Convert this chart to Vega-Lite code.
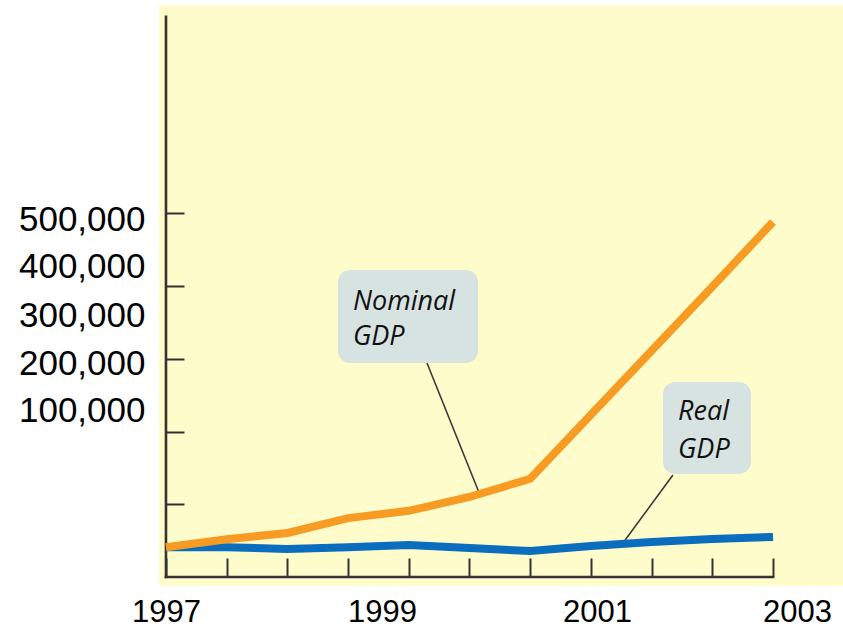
{
  "$schema": "https://vega.github.io/schema/vega-lite/v6.json",
  "width": 684,
  "height": 581,
  "autosize": "none",
  "padding": {"left": 159, "top": 5, "right": 0, "bottom": 43},
  "background": "white",
  "config": {"view": {"fill": "#fffccc", "stroke": null}},
  "datasets": {
    "series": [
      {"year": 1997.0, "value": 41000, "series": "Real GDP"},
      {"year": 1997.6, "value": 41000, "series": "Real GDP"},
      {"year": 1998.2, "value": 38500, "series": "Real GDP"},
      {"year": 1998.8, "value": 41000, "series": "Real GDP"},
      {"year": 1999.4, "value": 44000, "series": "Real GDP"},
      {"year": 2000.0, "value": 40000, "series": "Real GDP"},
      {"year": 2000.6, "value": 35700, "series": "Real GDP"},
      {"year": 2001.2, "value": 42600, "series": "Real GDP"},
      {"year": 2001.8, "value": 48100, "series": "Real GDP"},
      {"year": 2002.4, "value": 52200, "series": "Real GDP"},
      {"year": 2003.0, "value": 55000, "series": "Real GDP"},
      {"year": 1997.0, "value": 41000, "series": "Nominal GDP"},
      {"year": 1997.6, "value": 52000, "series": "Nominal GDP"},
      {"year": 1998.2, "value": 60500, "series": "Nominal GDP"},
      {"year": 1998.8, "value": 81000, "series": "Nominal GDP"},
      {"year": 1999.4, "value": 91000, "series": "Nominal GDP"},
      {"year": 2000.0, "value": 110000, "series": "Nominal GDP"},
      {"year": 2000.6, "value": 135000, "series": "Nominal GDP"},
      {"year": 2001.2, "value": 223000, "series": "Nominal GDP"},
      {"year": 2001.8, "value": 311000, "series": "Nominal GDP"},
      {"year": 2002.4, "value": 399000, "series": "Nominal GDP"},
      {"year": 2003.0, "value": 488000, "series": "Nominal GDP"}
    ],
    "boxes": [
      {"name": "Nominal GDP", "x1": 1998.700, "x2": 2000.084, "y1": 421993, "y2": 294158},
      {"name": "Real GDP", "x1": 2001.913, "x2": 2002.782, "y1": 268041, "y2": 141581}
    ],
    "leaders": [
      {"name": "Nominal GDP", "x1": 1999.580, "y1": 294158, "x2": 2000.104, "y2": 112715},
      {"name": "Real GDP", "x1": 2002.011, "y1": 140206, "x2": 2001.517, "y2": 46735}
    ],
    "labels": [
      {"text": "Nominal", "x": 1998.848, "y": 367010},
      {"text": "GDP", "x": 1998.848, "y": 318900},
      {"text": "Real", "x": 2002.061, "y": 215808},
      {"text": "GDP", "x": 2002.061, "y": 163574}
    ],
    "axislines": [
      {"x1": 1997, "y1": 0, "x2": 1997, "y2": 770000},
      {"x1": 1997, "y1": 0, "x2": 2003, "y2": 0}
    ]
  },
  "resolve": {"axis": {"x": "independent", "y": "independent"}},
  "layer": [
    {
      "data": {"name": "leaders"},
      "mark": {"type": "rule", "color": "#3a3a3a", "strokeWidth": 1.6},
      "encoding": {
        "x": {"field": "x1", "type": "quantitative", "scale": {"domain": [1996.931, 2003.692], "nice": false, "zero": false}, "axis": null},
        "y": {"field": "y1", "type": "quantitative", "scale": {"domain": [-12371, 786254], "nice": false, "zero": false}, "axis": null},
        "x2": {"field": "x2"},
        "y2": {"field": "y2"}
      }
    },
    {
      "data": {"name": "boxes"},
      "mark": {"type": "rect", "fill": "#d7e3e1", "cornerRadius": 12},
      "encoding": {
        "x": {"field": "x1", "type": "quantitative", "scale": {"domain": [1996.931, 2003.692], "nice": false, "zero": false}, "axis": null},
        "y": {"field": "y1", "type": "quantitative", "scale": {"domain": [-12371, 786254], "nice": false, "zero": false}, "axis": null},
        "x2": {"field": "x2"},
        "y2": {"field": "y2"}
      }
    },
    {
      "data": {"name": "labels"},
      "mark": {"type": "text", "align": "left", "baseline": "alphabetic", "font": "Open Sans", "fontStyle": "italic", "fontSize": 27, "color": "#111111"},
      "encoding": {
        "x": {"field": "x", "type": "quantitative", "scale": {"domain": [1996.931, 2003.692], "nice": false, "zero": false}, "axis": null},
        "y": {"field": "y", "type": "quantitative", "scale": {"domain": [-12371, 786254], "nice": false, "zero": false}, "axis": null},
        "text": {"field": "text"}
      }
    },
    {
      "data": {"name": "axislines"},
      "mark": {"type": "rule", "color": "#333333", "strokeWidth": 2.6, "strokeCap": "square"},
      "encoding": {
        "x": {
          "field": "x1", "type": "quantitative",
          "scale": {"domain": [1996.931, 2003.692], "nice": false, "zero": false},
          "axis": {
            "orient": "bottom", "title": null, "values": [1997, 1999.135, 2001.26, 2003.237],
            "labelExpr": "format(round(datum.value), 'd')",
            "ticks": false, "domain": false, "grid": false,
            "labelFont": "Liberation Sans", "labelFontSize": 31, "labelColor": "#000000",
            "labelPadding": 26, "labelBaseline": "middle", "labelAlign": "center",
            "labelFlush": false, "labelOverlap": false
          }
        },
        "y": {
          "field": "y1", "type": "quantitative",
          "scale": {"domain": [-12371, 786254], "nice": false, "zero": false},
          "axis": {
            "orient": "left", "title": null, "values": [492096, 426117, 358763, 294158, 229553],
            "labelExpr": "datum.value > 460000 ? '500,000' : datum.value > 390000 ? '400,000' : datum.value > 320000 ? '300,000' : datum.value > 260000 ? '200,000' : '100,000'",
            "ticks": false, "domain": false, "grid": false,
            "labelFont": "Liberation Sans", "labelFontSize": 35, "labelColor": "#000000",
            "labelPadding": 14, "labelBaseline": "middle", "labelAlign": "right",
            "labelFlush": false, "labelOverlap": false
          }
        },
        "x2": {"field": "x2"},
        "y2": {"field": "y2"}
      }
    },
    {
      "data": {"name": "series"},
      "mark": {"type": "line", "strokeWidth": 8, "strokeCap": "butt", "strokeJoin": "miter"},
      "encoding": {
        "x": {
          "field": "year", "type": "quantitative",
          "scale": {"domain": [1996.931, 2003.692], "nice": false, "zero": false},
          "axis": {
            "orient": "bottom", "title": null,
            "values": [1997, 1997.6, 1998.2, 1998.8, 1999.4, 2000, 2000.6, 2001.2, 2001.8, 2002.4, 2003],
            "labels": false, "domain": false, "grid": false,
            "ticks": true, "tickSize": -19, "tickWidth": 2, "tickColor": "#333333", "offset": -9
          }
        },
        "y": {
          "field": "value", "type": "quantitative",
          "scale": {"domain": [-12371, 786254], "nice": false, "zero": false},
          "axis": {
            "orient": "left", "title": null,
            "values": [100000, 200000, 300000, 400000, 500000],
            "labels": false, "domain": false, "grid": false,
            "ticks": true, "tickSize": -18, "tickWidth": 2, "tickColor": "#333333", "offset": -7
          }
        },
        "color": {
          "field": "series", "type": "nominal",
          "scale": {"domain": ["Nominal GDP", "Real GDP"], "range": ["#f89b23", "#0b6dbd"]},
          "legend": null
        },
        "order": {"field": "year", "type": "quantitative"}
      }
    }
  ]
}
